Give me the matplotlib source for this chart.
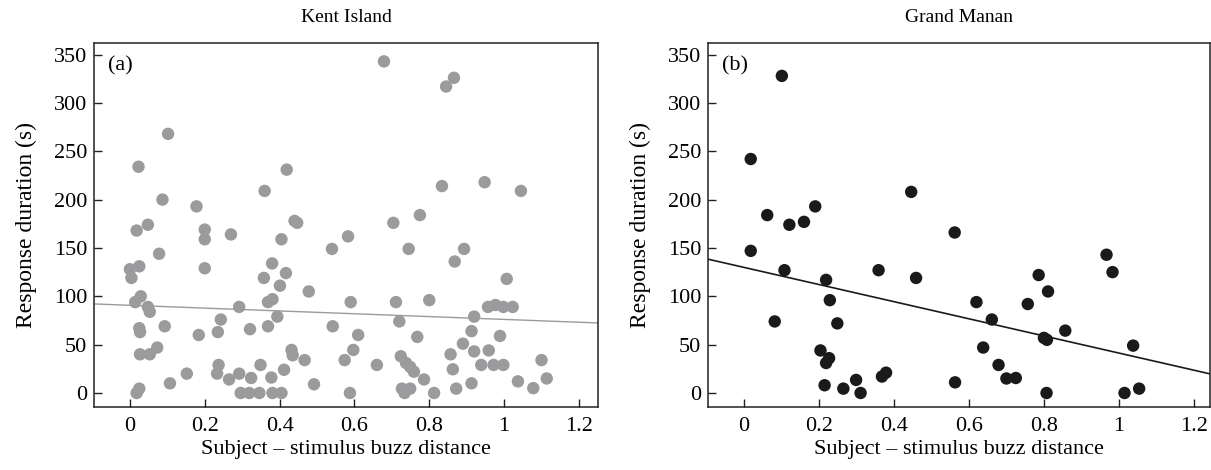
import matplotlib
matplotlib.use("Agg")
import matplotlib.pyplot as plt
import numpy as np

# Kent Island (panel a)
kent_x = [0.102, 0.023, 0.087, 0.178, 0.018, 0.048, 0.200, 0.200, 0.270, 0.078,
          0.000, 0.025, 0.004, 0.200, 0.029, 0.014, 0.048, 0.053, 0.093, 0.025,
          0.027, 0.027, 0.053, 0.073, 0.107, 0.152, 0.018, 0.025, 0.184, 0.243,
          0.235, 0.292, 0.321, 0.237, 0.233, 0.265, 0.292, 0.324, 0.349, 0.378,
          0.296, 0.319, 0.346, 0.381, 0.405, 0.412, 0.432, 0.435, 0.467, 0.492,
          0.542, 0.540, 0.478, 0.369, 0.394, 0.401, 0.417, 0.380, 0.358, 0.405,
          0.369, 0.381, 0.440, 0.447, 0.583, 0.590, 0.588, 0.574, 0.597, 0.360,
          0.419, 0.679, 0.866, 0.845, 0.834, 0.948, 1.045, 0.704, 0.775, 0.745,
          0.893, 0.868, 1.007, 0.711, 0.800, 0.610, 0.660, 0.720, 0.768, 0.724,
          0.738, 0.749, 0.759, 0.786, 0.727, 0.734, 0.749, 0.813, 0.957, 0.977,
          0.998, 1.023, 0.920, 0.913, 0.989, 0.890, 0.920, 0.959, 0.857, 0.863,
          0.939, 0.972, 0.998, 0.872, 0.913, 1.037, 1.078, 1.114, 1.100]
kent_y = [268, 234, 200, 193, 168, 174, 169, 159, 164, 144,
          128, 131, 119, 129, 100, 94, 89, 84, 69, 67,
          63, 40, 40, 47, 10, 20, 0, 4.5, 60, 76,
          63, 89, 66, 29, 20, 14, 20, 15.5, 29, 16,
          0, 0, 0, 0, 0, 24, 44.5, 39, 34, 9,
          69, 149, 105, 69, 79, 111, 124, 134, 119, 159,
          94, 97, 178, 176, 162, 94, 0, 34, 44.5, 209,
          231, 343, 326, 317, 214, 218, 209, 176, 184, 149,
          149, 136, 118, 94, 96, 60, 29, 74, 58, 38,
          31, 27, 22, 14, 4.5, 0, 4.5, 0, 89, 91,
          89, 89, 79, 64, 59, 51, 43, 44, 40, 24.5,
          29, 29, 29, 4.5, 10, 12, 5, 15, 34]

# Grand Manan (panel b)
gm_x = [0.101, 0.018, 0.446, 0.062, 0.121, 0.160, 0.190, 0.018, 0.108, 0.219,
        0.229, 0.082, 0.249, 0.359, 0.459, 0.204, 0.227, 0.219, 0.215, 0.265,
        0.299, 0.311, 0.368, 0.379, 0.562, 0.967, 0.983, 0.786, 0.811, 0.620,
        0.757, 0.661, 0.857, 0.800, 0.808, 0.638, 1.038, 0.679, 0.700, 0.725,
        0.563, 0.807, 1.015, 1.054]
gm_y = [328, 242, 208, 184, 174, 177, 193, 147, 127, 117,
        96, 74, 72, 127, 119, 44, 36, 31, 8, 4.5,
        13.5, 0, 17, 21, 166, 143, 125, 122, 105, 94,
        92, 76, 64.5, 57, 55, 47, 49, 29, 15, 15.5,
        11, 0, 0, 4.5]

# regression lines (intercept, slope)
kent_fit = (90.7, -14.6)
gm_fit = (129.9, -88.6)

titles = ["Kent Island", "Grand Manan"]
panel_tags = ["(a)", "(b)"]
xticks = [0, 0.2, 0.4, 0.6, 0.8, 1.0, 1.2]
xticklabels = ["0", "0.2", "0.4", "0.6", "0.8", "1", "1.2"]
yticks = [0, 50, 100, 150, 200, 250, 300, 350]

plt.rcParams['font.family'] = ['Liberation Serif', 'DejaVu Serif']
FS = 16

fig = plt.figure(figsize=(12.11, 4.70), dpi=100)
ax1 = fig.add_axes([94/1211, 1-407/470, (598-94)/1211, (407-43)/470])
ax2 = fig.add_axes([708/1211, 1-407/470, (1210-708)/1211, (407-43)/470])

panels = [
    (ax1, kent_x, kent_y, kent_fit, "#9b9b9d", "#9b9b9d", 1.0),
    (ax2, gm_x, gm_y, gm_fit, "#1a1a1a", "#1a1a1a", 1.2),
]
for i, (ax, xs, ys, fit, mc, lc, lw) in enumerate(panels):
    ax.scatter(xs, ys, s=80, color=mc, edgecolors='none', zorder=3)
    ax.axline((0, fit[0]), slope=fit[1], color=lc, lw=lw, zorder=2)
    ax.set_xlim(-0.096, 1.251 if i == 0 else 1.243)
    ax.set_ylim(-14.5, 362)
    ax.set_xticks(xticks)
    ax.set_xticklabels(xticklabels)
    ax.set_yticks(yticks)
    ax.tick_params(direction='in', length=6, width=1, labelsize=FS, pad=5, color='#222222')
    ax.tick_params(axis='x', pad=7)
    for sp in ax.spines.values():
        sp.set_linewidth(1.1)
        sp.set_color('#222222')
    ax.set_title(titles[i], fontsize=FS - 2, pad=15)
    ax.set_xlabel("Subject – stimulus buzz distance", fontsize=FS, labelpad=3)
    ax.set_ylabel("Response duration (s)", fontsize=FS + 1, labelpad=12)
    ax.text(0.028, 0.965, panel_tags[i], transform=ax.transAxes, fontsize=FS,
            ha='left', va='top')

fig.savefig("out.png", dpi=100)
